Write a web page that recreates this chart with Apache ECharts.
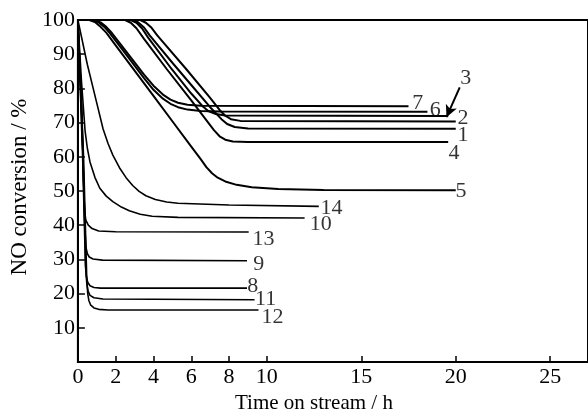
<!DOCTYPE html>
<html>
<head>
<meta charset="utf-8">
<script src="https://cdn.jsdelivr.net/npm/echarts@6/dist/echarts.min.js"></script>
<style>
  html, body { margin: 0; padding: 0; background: #fff; }
  #chart { width: 588px; height: 419px; }
</style>
</head>
<body>
<div id="chart"></div>
<script>
// tick labels
const timeTicks = [0, 2, 4, 6, 8, 10, 15, 20, 25];
const convTicks = [10, 20, 30, 40, 50, 60, 70, 80, 90, 100];

// [time on stream (h), NO conversion (%)]
const run1 = [[0, 100], [2.9, 100], [3.2, 99.3], [3.5, 97.8], [3.8, 95.5], [5, 87.5], [6, 81], [7, 74.5], [7.6, 71], [7.9, 69.6], [8.3, 68.7], [9, 68.3], [20, 68.2]];
const run2 = [[0, 100], [3.3, 100], [3.6, 99.2], [3.9, 97.7], [4.2, 95.5], [5.74, 85.6], [7, 77.2], [7.5, 73.7], [7.8, 72], [8.1, 71], [8.6, 70.5], [20, 70.3]];
const run3 = [[0, 100], [2.8, 100], [3.1, 99.2], [3.4, 97.5], [3.7, 95], [4.97, 85.6], [6, 78.5], [6.6, 74.8], [6.9, 73.4], [7.3, 72.5], [7.8, 72.05], [19.6, 71.9]];
const run4 = [[0, 100], [2.5, 100], [2.8, 99.2], [3.1, 97.6], [3.5, 94.5], [4.71, 85.6], [6, 76.5], [7.2, 67.8], [7.5, 66], [7.8, 65], [8.2, 64.5], [9, 64.3], [19.6, 64.3]];
const run5 = [[0, 100], [0.6, 100], [0.9, 99.4], [1.2, 98], [1.5, 96.3], [2, 92.6], [3, 85.2], [4, 77.8], [5, 70.4], [6, 63], [6.5, 59.3], [6.8, 57], [7.1, 55.2], [7.4, 53.9], [7.8, 52.8], [8.4, 51.8], [9.2, 51.1], [10.6, 50.6], [13, 50.3], [20, 50.2]];
const run6 = [[0, 100], [0.8, 100], [1.1, 99.3], [1.4, 98], [1.7, 96.1], [2.5, 90.3], [3.5, 83], [4, 79.6], [4.5, 77], [4.9, 75.5], [5.3, 74.5], [5.8, 73.8], [6.5, 73.4], [7.5, 73.25], [18.5, 73.2]];
const run7 = [[0, 100], [0.9, 100], [1.2, 99.3], [1.5, 98], [1.8, 96.2], [2.5, 91.2], [3.5, 84], [4, 80.8], [4.5, 78.2], [4.9, 76.7], [5.3, 75.8], [5.8, 75.2], [6.5, 74.9], [17.5, 74.8]];
const run8 = [[0, 100], [0.25, 60], [0.4, 28], [0.45, 25], [0.52, 23.3], [0.64, 22.3], [0.85, 21.8], [1.2, 21.6], [8.95, 21.6]];
const run9 = [[0, 100], [0.22, 70], [0.38, 38], [0.43, 33.5], [0.5, 31.7], [0.6, 30.7], [0.8, 30.1], [1.3, 29.8], [8.95, 29.6]];
const run10 = [[0, 100], [0.19, 82], [0.38, 67.6], [0.5, 62.5], [0.64, 58.5], [0.9, 54], [1.16, 50.8], [1.5, 48.5], [1.85, 46.9], [2.3, 45.3], [2.72, 44.2], [3.3, 43.2], [3.93, 42.6], [5.3, 42.3], [12, 42.1]];
const run11 = [[0, 100], [0.27, 60], [0.42, 27], [0.47, 23], [0.54, 20.7], [0.64, 19.5], [0.85, 18.8], [1.33, 18.4], [9.35, 18.2]];
const run12 = [[0, 100], [0.3, 60], [0.47, 24], [0.52, 20], [0.58, 18], [0.68, 16.6], [0.85, 15.8], [1.1, 15.4], [1.6, 15.2], [9.56, 15.2]];
const run13 = [[0, 100], [0.2, 75], [0.31, 50], [0.36, 44], [0.42, 41.5], [0.55, 40], [0.75, 39], [1.1, 38.3], [2, 38.1], [9.04, 38]];
const run14 = [[0, 100], [0.5, 87], [1, 75.7], [1.33, 68.2], [1.6, 63.8], [1.85, 60.5], [2.2, 56.8], [2.55, 53.9], [2.9, 51.6], [3.24, 49.9], [3.6, 48.6], [4.1, 47.5], [4.7, 46.8], [5.3, 46.4], [8, 45.9], [12.75, 45.5]];

const runs = [run1, run2, run3, run4, run5, run6, run7, run8, run9, run10, run11, run12, run13, run14];
const runNames = ["1", "2", "3", "4", "5", "6", "7", "8", "9", "10", "11", "12", "13", "14"];
// where each curve number is written, in axis units
const labelSpots = [[20.38, 66.2], [20.38, 71.4], [20.53, 83.0], [19.91, 61.0], [20.28, 49.9], [18.92, 73.7], [17.99, 75.8],
  [9.26, 22.1], [9.57, 28.7], [12.85, 40.3], [9.94, 18.3], [10.3, 13.1], [9.83, 36.0], [13.42, 45.0]];

const serif = "Liberation Serif";
const chart = echarts.init(document.getElementById("chart"));

const series = runs.map((d, i) => ({
  name: runNames[i],
  type: "line",
  data: d,
  symbol: "none",
  lineStyle: { color: "#000", width: i < 7 ? 2 : 1.6 },
  silent: true,
}));

series.push({
  type: "scatter",
  symbolSize: 0,
  silent: true,
  data: labelSpots.map((p, i) => ({ value: p, name: runNames[i] })),
  label: {
    show: true,
    position: "inside",
    formatter: (p) => p.name,
    color: "#000",
    fontFamily: serif,
    fontSize: 22,
  },
  // arrow pointing at curve 3
  markLine: {
    silent: true,
    symbol: ["none", "arrow"],
    symbolSize: [9, 12],
    label: { show: false },
    lineStyle: { color: "#000", width: 2, type: "solid" },
    data: [[{ coord: [20.21, 80.3] }, { coord: [19.51, 71.6] }]],
  },
});

chart.setOption({
  animation: false,
  backgroundColor: "#fff",
  grid: {
    left: 73,
    top: 20,
    right: -5,
    bottom: 54,
    show: true,
    borderColor: "#000",
    borderWidth: 2,
  },
  xAxis: {
    type: "value",
    min: 0,
    max: 27,
    name: "Time on stream / h",
    nameLocation: "middle",
    nameGap: 31,
    nameTextStyle: { fontFamily: serif, fontSize: 21, color: "#000", padding: [0, 38, 0, 0] },
    axisLine: { lineStyle: { color: "#000", width: 2 } },
    axisTick: { inside: true, length: 6, lineStyle: { color: "#000", width: 1.5 }, customValues: timeTicks.slice(1) },
    axisLabel: { customValues: timeTicks, fontFamily: serif, fontSize: 22, color: "#000", margin: 4 },
    splitLine: { show: false },
  },
  yAxis: {
    type: "value",
    min: 0,
    max: 100,
    interval: 10,
    name: "NO conversion / %",
    nameLocation: "middle",
    nameGap: 40,
    nameRotate: 90,
    nameTextStyle: { fontFamily: serif, fontSize: 23, color: "#000", padding: [0, 0, 0, 8] },
    axisLine: { lineStyle: { color: "#000", width: 2 } },
    axisTick: { inside: true, length: 7, lineStyle: { color: "#000", width: 1.5 }, customValues: convTicks },
    axisLabel: { customValues: convTicks, fontFamily: serif, fontSize: 22, color: "#000", margin: 3 },
    splitLine: { show: false },
  },
  series: series,
});
</script>
</body>
</html>
